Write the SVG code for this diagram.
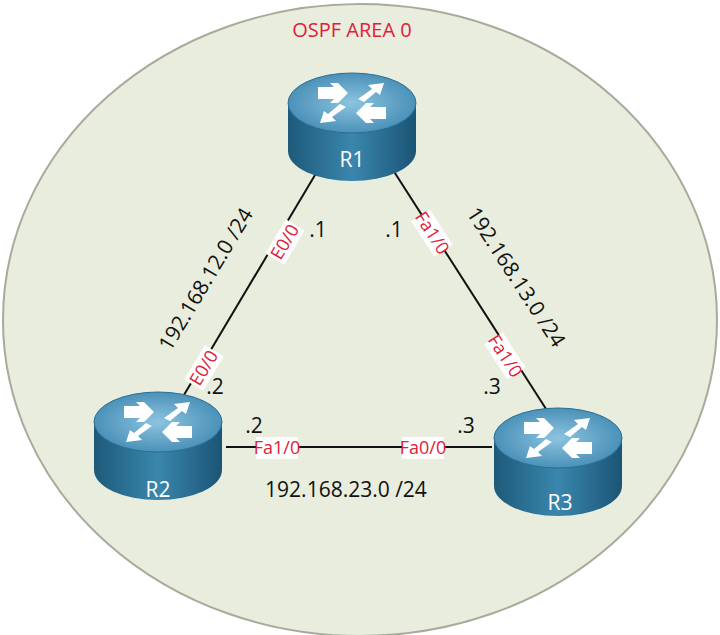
<svg xmlns="http://www.w3.org/2000/svg" width="720" height="635" viewBox="0 0 720 635">
<style>
.t{font-family:"Open Sans","Liberation Sans",sans-serif;font-size:21px;fill:#111}
.r{font-family:"Open Sans","Liberation Sans",sans-serif;font-size:18px;fill:#e0203a}
.lb{fill:#fff}
.ln{stroke:#111;stroke-width:2;fill:none}
.rl{font-family:"Open Sans","Liberation Sans",sans-serif;font-size:21px;fill:#fff}
</style>
<defs>
<linearGradient id="side" x1="0" y1="0" x2="1" y2="0">
<stop offset="0" stop-color="#1d5a7a"/><stop offset="0.5" stop-color="#3a86ad"/><stop offset="1" stop-color="#1b5475"/>
</linearGradient>
<radialGradient id="top" cx="0.5" cy="0.5" r="0.6">
<stop offset="0" stop-color="#8cc4e0"/><stop offset="1" stop-color="#3e87b0"/>
</radialGradient>
<g id="router">
<path d="M-64,0 V48 A64,30 0 0 0 64,48 V0 Z" fill="url(#side)"/>
<ellipse cx="0" cy="0" rx="64" ry="30" fill="url(#top)" stroke="#2a6f95" stroke-width="1"/>
<g fill="#fff">
<polygon points="-34,-16 -18,-16 -22,-20 -14,-20 -4,-10 -14,0 -22,0 -18,-4 -34,-4"/>
<polygon points="34,16 18,16 22,20 14,20 4,10 14,0 22,0 18,4 34,4"/>
<polygon points="6,-4 20,-14 16,-18 32,-20 28,-8 24,-11 12,-1"/>
<polygon points="-6,4 -20,14 -16,18 -32,20 -28,8 -24,11 -12,1"/>
</g>
</g>
</defs>
<ellipse cx="360" cy="320" rx="357" ry="316" fill="#e9eddd" stroke="#a8aa9c" stroke-width="2"/>
<text x="352" y="37" class="r" style="font-size:20px" text-anchor="middle">OSPF AREA 0</text>
<g id="connectors">
<line class="ln" x1="318" y1="170" x2="178" y2="405"/>
<line class="ln" x1="393" y1="170" x2="548" y2="412"/>
<line class="ln" x1="226" y1="447" x2="492" y2="447"/>
</g>
<g id="labels">
<g transform="translate(285,242) rotate(-59)"><rect class="lb" x="-20" y="-11" width="40" height="22"/><text class="r" text-anchor="middle" y="6">E0/0</text></g>
<g transform="translate(204,368) rotate(-59)"><rect class="lb" x="-20" y="-11" width="40" height="22"/><text class="r" text-anchor="middle" y="6">E0/0</text></g>
<g transform="translate(432,233) rotate(57)"><rect class="lb" x="-21" y="-11" width="42" height="22"/><text class="r" text-anchor="middle" y="6">Fa1/0</text></g>
<g transform="translate(505,356) rotate(57)"><rect class="lb" x="-21" y="-11" width="42" height="22"/><text class="r" text-anchor="middle" y="6">Fa1/0</text></g>
<rect class="lb" x="256" y="437" width="42" height="22"/><text class="r" x="277" y="454" text-anchor="middle">Fa1/0</text>
<rect class="lb" x="402" y="437" width="42" height="22"/><text class="r" x="423" y="454" text-anchor="middle">Fa0/0</text>
<text class="t" transform="translate(212,283) rotate(-59)" text-anchor="middle">192.168.12.0 /24</text>
<text class="t" transform="translate(510,281) rotate(57)" text-anchor="middle">192.168.13.0 /24</text>
<text class="t" x="346" y="497" text-anchor="middle">192.168.23.0 /24</text>
<text class="t" x="318" y="237" text-anchor="middle">.1</text>
<text class="t" x="394" y="237" text-anchor="middle">.1</text>
<text class="t" x="215" y="394" text-anchor="middle">.2</text>
<text class="t" x="254" y="433" text-anchor="middle">.2</text>
<text class="t" x="466" y="433" text-anchor="middle">.3</text>
<text class="t" x="492" y="394" text-anchor="middle">.3</text>
</g>
<g id="R1"><use href="#router" x="352" y="103"/><text class="rl" x="352" y="167" text-anchor="middle">R1</text></g>
<g id="R2"><use href="#router" x="158" y="422"/><text class="rl" x="158" y="497" text-anchor="middle">R2</text></g>
<g id="R3"><use href="#router" x="558" y="438"/><text class="rl" x="560" y="510" text-anchor="middle">R3</text></g>
</svg>
